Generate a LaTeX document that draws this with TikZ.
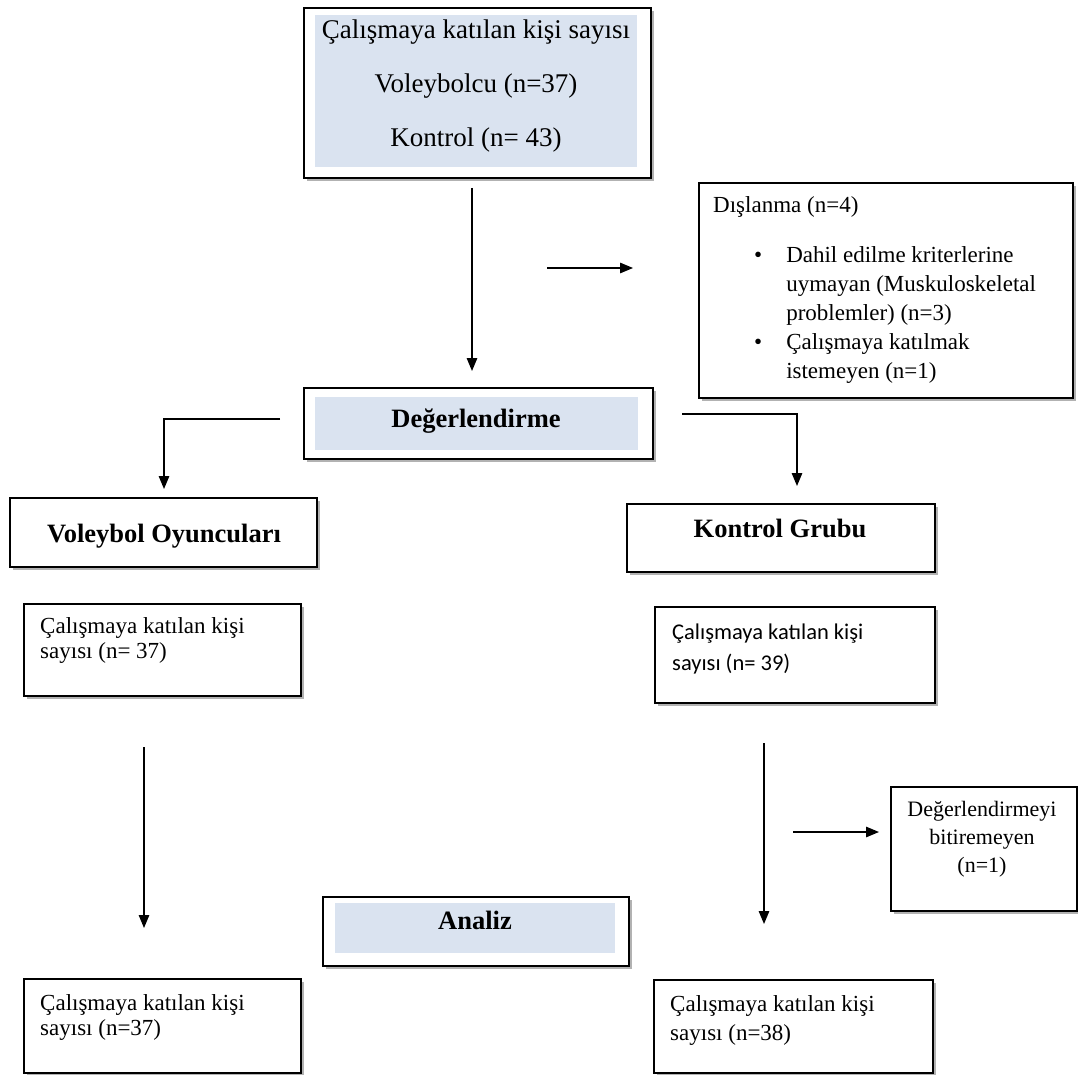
\documentclass[tikz,border=0pt]{standalone}
\usepackage{fontspec}
\setmainfont{Liberation Serif}
\newfontfamily\calib{Carlito}
\usetikzlibrary{arrows.meta,shadows}
\definecolor{innerblue}{RGB}{218,227,240}
\begin{document}
\begin{tikzpicture}[x=1pt,y=-1pt,
  frame/.style={draw=black, line width=1.6pt, fill=white, inner sep=0pt, anchor=north west,
    drop shadow={shadow xshift=3pt, shadow yshift=-3pt, opacity=0.3, fill=black}},
  innerbox/.style={fill=innerblue, draw=none, inner sep=0pt, anchor=north west},
  head/.style={anchor=base, font=\fontsize{26.5}{31}\selectfont\bfseries, inner sep=0pt},
  body/.style={inner sep=0pt, font=\fontsize{23}{29}\selectfont},
  arr/.style={-{Triangle[length=13pt,width=10.5pt]}, line width=1.4pt}]
\useasboundingbox (0,0) rectangle (1078,1075);

% boxes
\node[frame, minimum width=347, minimum height=170] (top) at (303,7) {};
\node[innerbox, minimum width=322, minimum height=152] (topin) at (315,15) {};
\node[frame, minimum width=374, minimum height=215] (excl) at (698,182) {};
\node[frame, minimum width=349, minimum height=71] (deg) at (303,387) {};
\node[innerbox, minimum width=323, minimum height=53] (degin) at (315,397) {};
\node[frame, minimum width=307, minimum height=69] (vol) at (9,497) {};
\node[frame, minimum width=308, minimum height=68] (kon) at (626,503) {};
\node[frame, minimum width=277, minimum height=92] (vcount) at (23,603) {};
\node[frame, minimum width=280, minimum height=96] (kcount) at (654,606) {};
\node[frame, minimum width=186, minimum height=124] (bitir) at (890,786) {};
\node[frame, minimum width=306, minimum height=69] (analiz) at (322,896) {};
\node[innerbox, minimum width=280, minimum height=50] (analizin) at (335,903) {};
\node[frame, minimum width=277, minimum height=94] (vfinal) at (23,978) {};
\node[frame, minimum width=279, minimum height=93] (kfinal) at (653,979) {};

% texts
\node[anchor=base, inner sep=0pt, font=\fontsize{27}{54}\selectfont] (toptxt) at (476,39)
  {\begin{tabular}[t]{@{}c@{}}Çalışmaya katılan kişi sayısı\\Voleybolcu (n=37)\\Kontrol (n= 43)\end{tabular}};
\node[body, anchor=base west] (excltitle) at (713,213) {Dışlanma (n=4)};
\node[body, anchor=base west] (excllist) at (754,262)
  {\begin{tabular}[t]{@{}l@{\hspace{24pt}}l@{}}\textbullet & Dahil edilme kriterlerine\\
   & uymayan (Muskuloskeletal\\ & problemler) (n=3)\\
   \textbullet & Çalışmaya katılmak\\ & istemeyen (n=1)\end{tabular}};
\node[head] (degtxt) at (476,427) {Değerlendirme};
\node[head] (voltxt) at (164,542) {Voleybol Oyuncuları};
\node[head] (kontxt) at (780,537) {Kontrol Grubu};
\node[head] (analiztxt) at (475,929) {Analiz};
\node[inner sep=0pt, anchor=base west, font=\fontsize{23}{25}\selectfont] (vcounttxt) at (40,633)
  {\begin{tabular}[t]{@{}l@{}}Çalışmaya katılan kişi\\sayısı (n= 37)\end{tabular}};
\node[inner sep=0pt, anchor=base west, font=\calib\fontsize{22.5}{31}\selectfont] (kcounttxt) at (672,639)
  {\begin{tabular}[t]{@{}l@{}}Çalışmaya katılan kişi\\sayısı (n= 39)\end{tabular}};
\node[inner sep=0pt, anchor=base, font=\fontsize{22}{28}\selectfont] (bitirtxt) at (982,816)
  {\begin{tabular}[t]{@{}c@{}}Değerlendirmeyi\\bitiremeyen\\(n=1)\end{tabular}};
\node[inner sep=0pt, anchor=base west, font=\fontsize{23}{25}\selectfont] (vfinaltxt) at (40,1010)
  {\begin{tabular}[t]{@{}l@{}}Çalışmaya katılan kişi\\sayısı (n=37)\end{tabular}};
\node[inner sep=0pt, anchor=base west, font=\fontsize{23}{29}\selectfont] (kfinaltxt) at (670,1011)
  {\begin{tabular}[t]{@{}l@{}}Çalışmaya katılan kişi\\sayısı (n=38)\end{tabular}};

% connector coordinates
\coordinate (a1s) at (472,188);  \coordinate (a1e) at (472,371);
\coordinate (a2s) at (547,268);  \coordinate (a2e) at (633,268);
\coordinate (a3s) at (280,419);  \coordinate (a3c) at (164,419); \coordinate (a3e) at (164,489);
\coordinate (a4s) at (682,414);  \coordinate (a4c) at (797,414); \coordinate (a4e) at (797,486);
\coordinate (a5s) at (144,747);  \coordinate (a5e) at (144,928);
\coordinate (a6s) at (764,743);  \coordinate (a6e) at (764,924);
\coordinate (a7s) at (793,832);  \coordinate (a7e) at (879,832);

\draw[arr] (a1s) -- (a1e);
\draw[arr] (a2s) -- (a2e);
\draw[arr] (a3s) -- (a3c) -- (a3e);
\draw[arr] (a4s) -- (a4c) -- (a4e);
\draw[arr] (a5s) -- (a5e);
\draw[arr] (a6s) -- (a6e);
\draw[arr] (a7s) -- (a7e);
\end{tikzpicture}
\end{document}
